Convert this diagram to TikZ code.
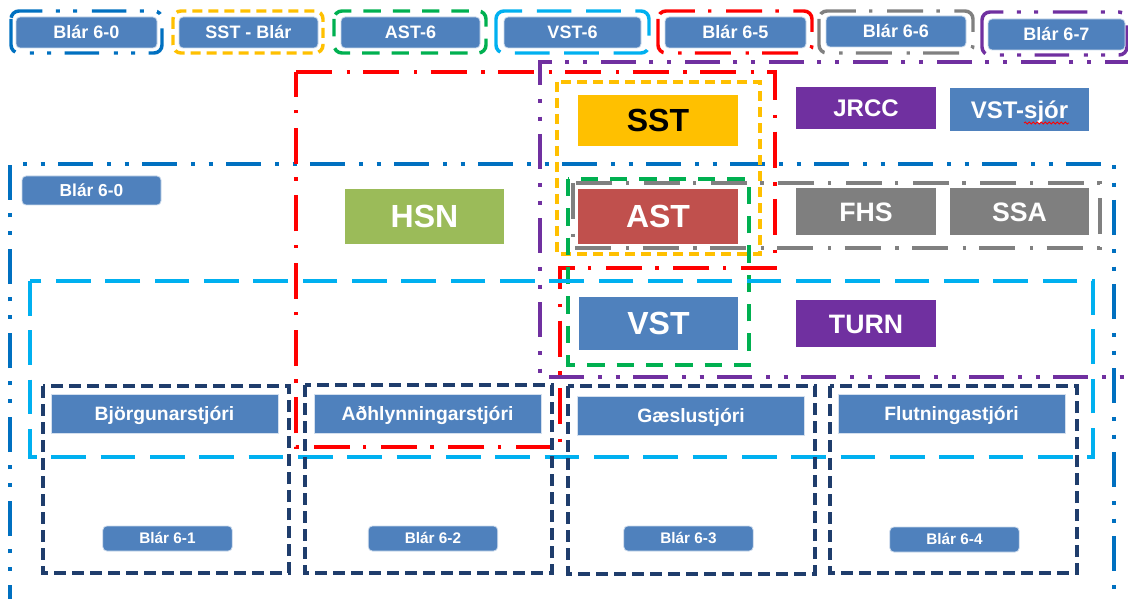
\documentclass[tikz,border=0pt]{standalone}
\usepackage{fontspec}
\setmainfont{Liberation Sans}
\usetikzlibrary{decorations.pathmorphing}
\definecolor{boxblue}{HTML}{4F81BD}
\definecolor{frblue}{HTML}{0070C0}
\definecolor{frcyan}{HTML}{00B0F0}
\definecolor{frred}{HTML}{FF0000}
\definecolor{fryellow}{HTML}{FFC000}
\definecolor{frgreen}{HTML}{00B050}
\definecolor{frgray}{HTML}{808080}
\definecolor{frpurple}{HTML}{7030A0}
\definecolor{frnavy}{HTML}{1F3D6C}
\definecolor{hsngreen}{HTML}{9BBB59}
\definecolor{astred}{HTML}{C0504D}
\definecolor{boxgray}{HTML}{7F7F7F}
\begin{document}
\begin{tikzpicture}[x=0.75pt,y=-0.75pt,
  ddot/.style={line width=3pt,dash pattern=on 26pt off 11pt on 3pt off 10pt on 3pt off 10pt},
  ddash/.style={line width=3pt,dash pattern=on 27pt off 11pt on 2.5pt off 10pt},
  ldash/.style={line width=3pt,dash pattern=on 26pt off 11pt},
  sdash/.style={line width=3pt,dash pattern=on 7.5pt off 4.5pt},
  mdash/.style={line width=3pt,dash pattern=on 13pt off 9pt},
  ndash/.style={line width=2.5pt,dash pattern=on 9pt off 4.5pt},
  legframe/.style={rounded corners=6pt,line width=2.6pt},
  unit/.style={inner sep=0pt,text=white,text depth=0pt},
  big/.style={unit,text height=17.2pt,font=\fontsize{24}{24}\selectfont\bfseries},
  mid/.style={unit,text height=14.3pt,font=\fontsize{20}{20}\selectfont\bfseries},
  small/.style={unit,text height=12.9pt,font=\fontsize{18}{18}\selectfont\bfseries},
  role/.style={unit,fill=boxblue,draw=white!75!boxblue,line width=0.5pt,text height=10.4pt,
    font=\fontsize{14.5}{14.5}\selectfont\bfseries,minimum width=170pt,minimum height=29.5pt},
  tag/.style={unit,fill=boxblue,draw=white!70!boxblue,line width=0.6pt,rounded corners=3pt},
  legtag/.style={tag,text height=9.7pt,font=\fontsize{13.5}{13.5}\selectfont\bfseries,minimum height=23.25pt},
  subtag/.style={tag,text height=8.2pt,font=\fontsize{11.5}{11.5}\selectfont\bfseries,minimum width=97pt,minimum height=18.75pt}]
\useasboundingbox (0,0) rectangle (1128,599);

% legend row
\draw[frblue,ddot,legframe] (11,11) rectangle (162,53);
\draw[fryellow,sdash,legframe] (173,11) rectangle (323,53);
\draw[frgreen,mdash,legframe] (334,11) rectangle (486,53);
\draw[frcyan,ldash,legframe] (496,11) rectangle (649,53);
\draw[frred,ddash,legframe] (658,11) rectangle (812,53);
\draw[frgray,ddash,legframe] (819,11) rectangle (973,53);
\draw[frpurple,ddot,legframe] (982,12) rectangle (1127,55);
\node (leg0) [legtag,minimum width=105.75pt] at (86.5,32.5) {Blár 6-0};
\node (legsst) [legtag,minimum width=104.25pt] at (248.5,32.5) {SST - Blár};
\node (legast) [legtag,minimum width=104.25pt] at (410.5,32.5) {AST-6};
\node (legvst) [legtag,minimum width=102.75pt] at (572.5,32.5) {VST-6};
\node (leg5) [legtag,minimum width=105.75pt] at (735.5,32.5) {Blár 6-5};
\node (leg6) [legtag,minimum width=105pt] at (896,31.5) {Blár 6-6};
\node (leg7) [legtag,minimum width=102.75pt] at (1056.5,34.5) {Blár 6-7};

% group frames
\draw[frblue,ddot] (10,620) -- (10,164) -- (1114,164) -- (1114,620);
\draw[frpurple,ddot] (1140,62) -- (540,62) -- (540,377) -- (1140,377);
\draw[frred,ddash] (296,72) -- (775,72) -- (775,268) -- (560,268) -- (560,447) -- (296,447) -- cycle;
\draw[fryellow,sdash] (557,82) rectangle (760,254);
\draw[frgray,ddash,line width=2.5pt] (573,183) rectangle (1100,248);
\draw[frgreen,mdash] (568,179) rectangle (749,365);
\draw[frcyan,ldash] (30,281) rectangle (1093,457);
\draw[frnavy,ndash] (43,386) rectangle (289,573);
\draw[frnavy,ndash] (305,385) rectangle (552,573);
\draw[frnavy,ndash] (568,386) rectangle (815,574);
\draw[frnavy,ndash] (830,386) rectangle (1077,573);

% units
\node (sst) [big,fill=fryellow,text=black,minimum width=120pt,minimum height=38.25pt] at (658,120.5) {SST};
\node (jrcc) [small,fill=frpurple,minimum width=105pt,minimum height=31.5pt] at (866,108) {JRCC};
\node (vstsjor) [small,fill=boxblue,minimum width=104.25pt,minimum height=32.25pt] at (1019.5,109.5) {VST-sjór};
\draw[frred,line width=0.6pt,decorate,decoration={snake,amplitude=0.8pt,segment length=3pt}] (1024,123) -- (1069,123);
\node (hsn) [big,fill=hsngreen,minimum width=119.25pt,minimum height=41.25pt] at (424.5,216.5) {HSN};
\node (ast) [big,fill=astred,minimum width=120pt,minimum height=41.25pt] at (658,216.5) {AST};
\node (fhs) [mid,fill=boxgray,minimum width=105pt,minimum height=35.25pt] at (866,211.5) {FHS};
\node (ssa) [mid,fill=boxgray,minimum width=104.25pt,minimum height=35.25pt] at (1019.5,211.5) {SSA};
\node (vst) [big,fill=boxblue,minimum width=119.25pt,minimum height=39.75pt] at (658.5,323.5) {VST};
\node (turn) [mid,fill=frpurple,minimum width=105pt,minimum height=35.25pt] at (866,323.5) {TURN};
\node (blar0) [tag,text height=9.3pt,font=\fontsize{13}{13}\selectfont\bfseries,minimum width=104.25pt,minimum height=21.75pt] at (91.5,190.5) {Blár 6-0};

% roles
\node (bjorg) [role] at (164.5,414) {Björgunarstjóri};
\node (adhl) [role] at (427.5,414) {Aðhlynningarstjóri};
\node (gaesl) [role] at (691,415.5) {Gæslustjóri};
\node (flutn) [role] at (951.5,413.5) {Flutningastjóri};
\node (blar1) [subtag] at (167.5,538.5) {Blár 6-1};
\node (blar2) [subtag] at (433,538.5) {Blár 6-2};
\node (blar3) [subtag] at (688.5,538.5) {Blár 6-3};
\node (blar4) [subtag] at (954.5,539.5) {Blár 6-4};
\end{tikzpicture}
\end{document}
